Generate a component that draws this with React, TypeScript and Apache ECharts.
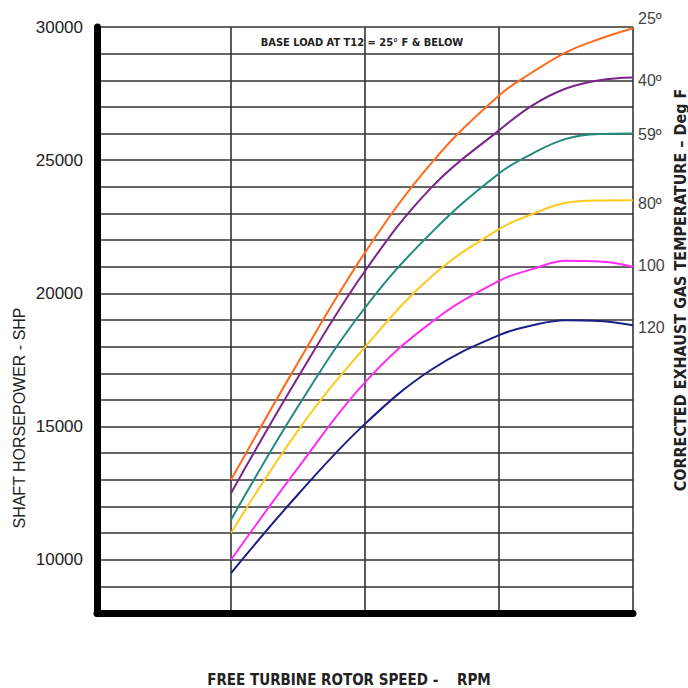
import React, { useEffect, useRef } from "react";
import * as echarts from "echarts";

const rpmSteps = [1, 1.5, 2, 2.5, 3, 3.25, 3.5, 3.75, 4];
const tempLabels = ["25º", "40º", "59º", "80º", "100", "120"];
const shp25 = [13000, 17400, 21530, 24920, 27430, 28300, 29050, 29550, 29950];
const shp40 = [12500, 16850, 20840, 24000, 26120, 27060, 27690, 28000, 28100];
const shp59 = [11500, 15750, 19460, 22300, 24500, 25250, 25800, 25980, 26000];
const shp80 = [11000, 14850, 17980, 20650, 22410, 22980, 23400, 23490, 23500];
const shp100 = [10000, 13450, 16660, 18930, 20470, 20910, 21220, 21200, 21000];
const shp120 = [9500, 12450, 15100, 17150, 18430, 18800, 18990, 18960, 18800];
const seriesValues = [shp25, shp40, shp59, shp80, shp100, shp120];
const colors = ["#ff6a1c", "#7b2489", "#1f8a80", "#ffc91f", "#ff2cf4", "#1b1f85"];
const labelOffsets = [[0, -10], [0, 3], [0, 1], [0, 3], [0, -1], [0, 2]];

const narrow = '"Liberation Sans Narrow", "DejaVu Sans Condensed", "Liberation Sans", Arial, sans-serif';

export default function App() {
  const ref = useRef<HTMLDivElement>(null);
  useEffect(() => {
    if (!ref.current) return;
    const chart = echarts.init(ref.current, undefined, { renderer: "svg" });
    chart.setOption({
      animation: false,
      backgroundColor: "#ffffff",
      grid: { left: 97, right: 55, top: 27, bottom: 75 },
      xAxis: {
        type: "value",
        min: 0,
        max: 4,
        interval: 1,
        axisLine: { show: true, lineStyle: { color: "#000", width: 7 } },
        axisTick: { show: false },
        axisLabel: { show: false },
        splitLine: { show: true, lineStyle: { color: "#333", width: 1.6 } },
      },
      yAxis: {
        type: "value",
        min: 8000,
        max: 30000,
        interval: 1000,
        axisLine: { show: true, lineStyle: { color: "#000", width: 7 } },
        axisTick: { show: false },
        axisLabel: {
          margin: 14,
          fontSize: 17,
          color: "#222",
          fontFamily: '"Liberation Sans", Arial, sans-serif',
          formatter: (v: number) => (v % 5000 === 0 ? String(v) : ""),
        },
        splitLine: { show: true, lineStyle: { color: "#333", width: 1.6 } },
      },
      series: seriesValues.map((vals, i) => ({
        type: "line",
        name: tempLabels[i],
        data: rpmSteps.map((x, j) => [x, vals[j]]),
        smooth: 0.4,
        symbol: "none",
        lineStyle: { color: colors[i], width: 2 },
        endLabel: {
          show: true,
          formatter: tempLabels[i],
          color: "#444",
          fontSize: 16,
          fontFamily: '"Liberation Sans", Arial, sans-serif',
          distance: 5,
          offset: labelOffsets[i],
        },
      })),
      graphic: [
        {
          type: "text",
          x: 362,
          y: 42,
          style: {
            text: "BASE LOAD AT T12 = 25° F & BELOW",
            fontSize: 11,
            fontWeight: "bold",
            fontFamily: narrow,
            fill: "#222",
            align: "center",
            verticalAlign: "middle",
          },
        },
        {
          type: "text",
          x: 19,
          y: 418,
          rotation: Math.PI / 2,
          style: {
            text: "SHAFT HORSEPOWER - SHP",
            fontSize: 16,
            fontFamily: '"Liberation Sans", Arial, sans-serif',
            fill: "#222",
            align: "center",
            verticalAlign: "middle",
          },
        },
        {
          type: "text",
          x: 680,
          y: 290,
          rotation: Math.PI / 2,
          style: {
            text: "CORRECTED EXHAUST GAS TEMPERATURE – Deg F",
            fontSize: 16,
            fontWeight: "bold",
            fontFamily: narrow,
            fill: "#222",
            align: "center",
            verticalAlign: "middle",
          },
        },
        {
          type: "text",
          x: 349,
          y: 680,
          style: {
            text: "FREE TURBINE ROTOR SPEED -    RPM",
            fontSize: 15,
            fontWeight: "bold",
            fontFamily: narrow,
            fill: "#222",
            align: "center",
            verticalAlign: "middle",
          },
        },
      ],
    });
    return () => chart.dispose();
  }, []);
  return (
    <div
      ref={ref}
      style={{ position: "fixed", left: 0, top: 0, width: 688, height: 688 }}
    />
  );
}
